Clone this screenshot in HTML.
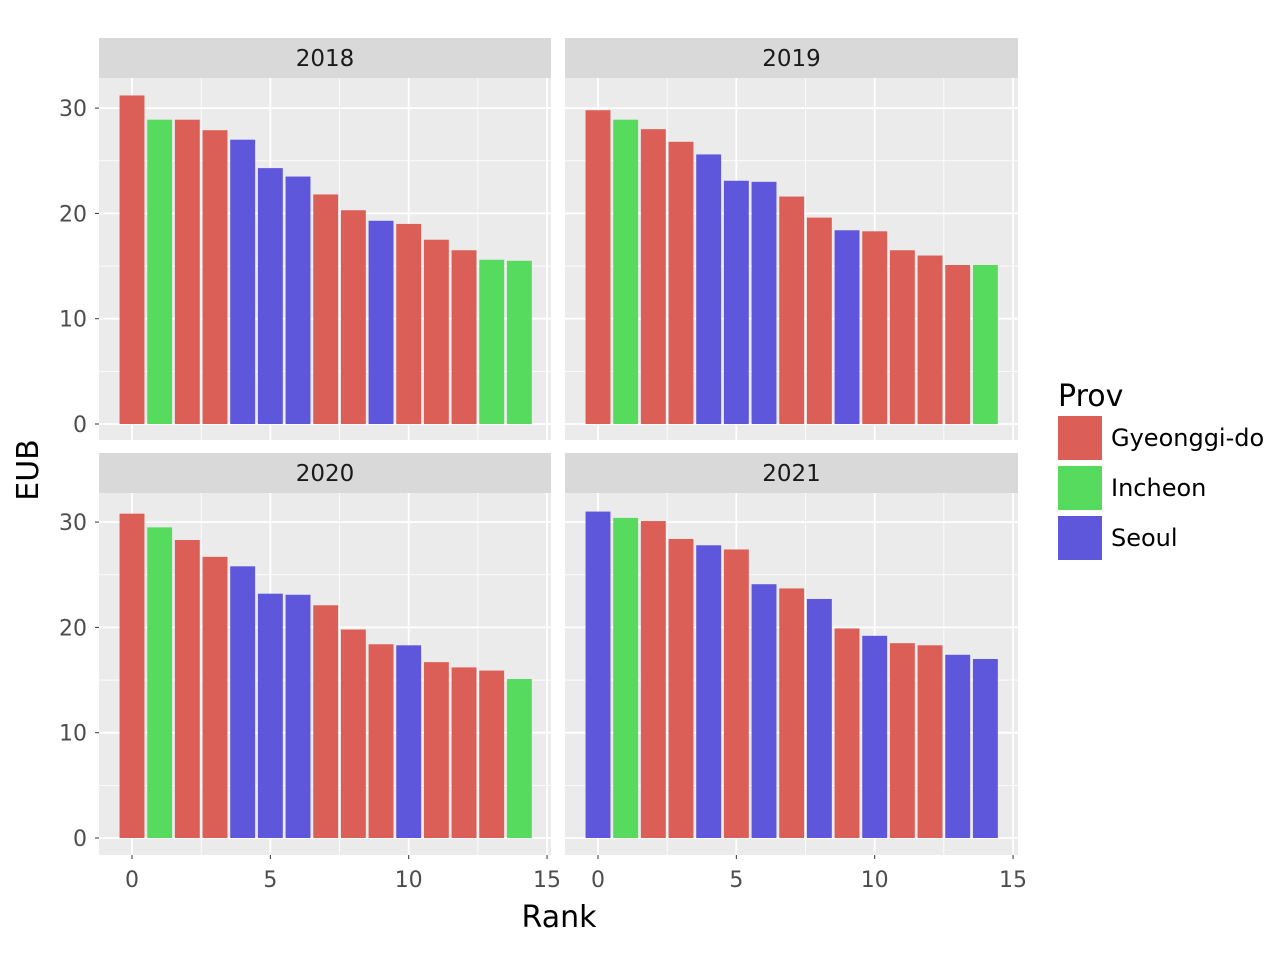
<!DOCTYPE html>
<html><head><meta charset="utf-8"><style>body{margin:0;background:#fff}svg{display:block;font-family:"DejaVu Sans","Liberation Sans",sans-serif}</style></head>
<body>
<svg id="chart" width="1280" height="960" xmlns="http://www.w3.org/2000/svg"></svg>
<script>
const years = ["2018","2019","2020","2021"];
const ranks = [0,1,2,3,4,5,6,7,8,9,10,11,12,13,14];
const eub2018 = [31.2,28.9,28.9,27.9,27.0,24.3,23.5,21.8,20.3,19.3,19.0,17.5,16.5,15.6,15.5];
const prov2018 = ["G","I","G","G","S","S","S","G","G","S","G","G","G","I","I"];
const eub2019 = [29.8,28.9,28.0,26.8,25.6,23.1,23.0,21.6,19.6,18.4,18.3,16.5,16.0,15.1,15.1];
const prov2019 = ["G","I","G","G","S","S","S","G","G","S","G","G","G","G","I"];
const eub2020 = [30.8,29.5,28.3,26.7,25.8,23.2,23.1,22.1,19.8,18.4,18.3,16.7,16.2,15.9,15.1];
const prov2020 = ["G","I","G","G","S","S","S","G","G","G","S","G","G","G","I"];
const eub2021 = [31.0,30.4,30.1,28.4,27.8,27.4,24.1,23.7,22.7,19.9,19.2,18.5,18.3,17.4,17.0];
const prov2021 = ["S","I","G","G","S","G","S","G","S","G","S","G","G","S","S"];
const xTicks = [0,5,10,15];
const yTicks = [0,10,20,30];
const legendLabels = ["Gyeonggi-do","Incheon","Seoul"];

const colors = {G:"#db5f57", I:"#57db5f", S:"#5f57db"};
const svg = document.getElementById('chart');
const NS = "http://www.w3.org/2000/svg";
function mk(tag, attrs, parent){const e=document.createElementNS(NS,tag);for(const k in attrs)e.setAttribute(k,attrs[k]);(parent||svg).appendChild(e);return e;}
function txt(s, attrs){const e=mk('text',attrs);e.textContent=s;return e;}

const panels = [
 {y:years[0], vals:eub2018, prov:prov2018, x0:99, x1:551, top:78, bot:440, zero:424, bottomAxis:false, leftAxis:true},
 {y:years[1], vals:eub2019, prov:prov2019, x0:565, x1:1018, top:78, bot:440, zero:424, bottomAxis:false, leftAxis:false},
 {y:years[2], vals:eub2020, prov:prov2020, x0:99, x1:551, top:493, bot:855, zero:838, bottomAxis:true, leftAxis:true},
 {y:years[3], vals:eub2021, prov:prov2021, x0:565, x1:1018, top:493, bot:855, zero:838, bottomAxis:true, leftAxis:false}
];
const pxPerUnitY = 10.53, pxPerUnitX = 27.67;
panels.forEach(p=>{
  const sx = v => p.x0 + 33 + v*pxPerUnitX;
  const sy = v => p.zero - v*pxPerUnitY;
  const bg = mk('rect',{x:p.x0,y:p.top,width:p.x1-p.x0,height:p.bot-p.top,fill:"#ebebeb"});
  
  
  const st = mk('rect',{x:p.x0,y:p.top-40,width:p.x1-p.x0,height:40,fill:"#d9d9d9"});
  
  
  const stt = txt(p.y,{x:(p.x0+p.x1)/2,y:p.top-12,'text-anchor':'middle','font-size':23,fill:'#1a1a1a'});
  
  
  [2.5,7.5,12.5].forEach(v=>mk('line',{x1:sx(v),x2:sx(v),y1:p.top,y2:p.bot,stroke:'#fff','stroke-width':0.8}));
  [5,15,25].forEach(v=>mk('line',{x1:p.x0,x2:p.x1,y1:sy(v),y2:sy(v),stroke:'#fff','stroke-width':0.8}));
  xTicks.forEach(v=>mk('line',{x1:sx(v),x2:sx(v),y1:p.top,y2:p.bot,stroke:'#fff','stroke-width':1.8}));
  yTicks.forEach(v=>mk('line',{x1:p.x0,x2:p.x1,y1:sy(v),y2:sy(v),stroke:'#fff','stroke-width':1.8}));
  ranks.forEach((r,i)=>{
    const b = mk('rect',{x:sx(r-0.45),y:sy(p.vals[i]),width:0.9*pxPerUnitX,height:sy(0)-sy(p.vals[i]),fill:colors[p.prov[i]]});
    
    
  });
  if(p.leftAxis){
    yTicks.forEach(v=>{
      mk('line',{x1:p.x0-4,x2:p.x0,y1:sy(v),y2:sy(v),stroke:'#333','stroke-width':1});
      const t = txt(String(v),{x:p.x0-12,y:sy(v)+8,'text-anchor':'end','font-size':22,fill:'#4d4d4d'});
      
      
    });
  }
  if(p.bottomAxis){
    xTicks.forEach(v=>{
      mk('line',{x1:sx(v),x2:sx(v),y1:p.bot,y2:p.bot+4,stroke:'#333','stroke-width':1});
      const t = txt(String(v),{x:sx(v),y:p.bot+32,'text-anchor':'middle','font-size':22,fill:'#4d4d4d'});
      
      
    });
  }
});
const xt = txt("Rank",{x:559,y:927,'text-anchor':'middle','font-size':30,fill:'#000'});


const yt = txt("EUB",{x:0,y:0,'text-anchor':'middle','font-size':30,fill:'#000',transform:'translate(38,470) rotate(-90)'});


const lt = txt("Prov",{x:1058,y:406,'font-size':30,fill:'#000'});


["G","I","S"].forEach((k,i)=>{
  const y0 = 416 + i*50;
  const r = mk('rect',{x:1058,y:y0,width:44,height:44,fill:colors[k]});
  
  
  const t = txt(legendLabels[i],{x:1111,y:y0+30,'font-size':24,fill:'#000'});
  
  
});
</script>
</body></html>
